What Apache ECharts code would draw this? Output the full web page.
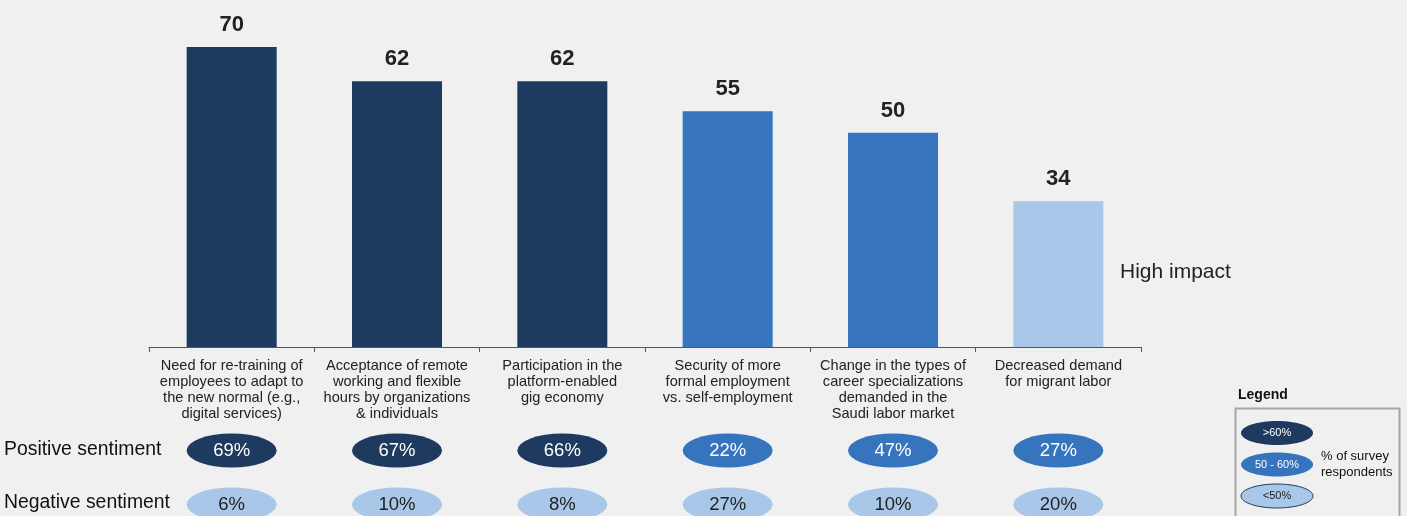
<!DOCTYPE html>
<html>
<head>
<meta charset="utf-8">
<script src="https://cdn.jsdelivr.net/npm/echarts@6/dist/echarts.min.js"></script>
<style>
  html, body { margin: 0; padding: 0; background: #f0f0f0; }
  #chart { width: 1407px; height: 516px; }
</style>
</head>
<body>
<div id="chart"></div>
<script>
// Impact drivers on the labour market
const categories = [
  'Need for re-training of\nemployees to adapt to\nthe new normal (e.g.,\ndigital services)',
  'Acceptance of remote\nworking and flexible\nhours by organizations\n& individuals',
  'Participation in the\nplatform-enabled\ngig economy',
  'Security of more\nformal employment\nvs. self-employment',
  'Change in the types of\ncareer specializations\ndemanded in the\nSaudi labor market',
  'Decreased demand\nfor migrant labor'
];
const impactScores = [70, 62, 62, 55, 50, 34];
const positiveSentiment = [69, 67, 66, 22, 47, 27];
const negativeSentiment = [6, 10, 8, 27, 10, 20];
const legendLabels = ['>60%', '50 - 60%', '<50%'];

const DARK = '#1f3a5f';
const MID = '#3674be';
const LIGHT = '#a9c7e8';
const FONT = '"Liberation Sans", Arial, sans-serif';

function barColor(v) {
  if (v > 60) return DARK;
  if (v >= 50) return MID;
  return LIGHT;
}

// Positive row keeps the blue shades of the driver groups; negative row is light
const positiveColors = [DARK, DARK, DARK, MID, MID, MID];

const posPoints = positiveSentiment.map((v, i) => ({
  value: [i, 1, v],
  itemStyle: { color: positiveColors[i], opacity: 1 },
  label: { color: '#ffffff' }
}));
const negPoints = negativeSentiment.map((v, i) => ({
  value: [i, 0, v],
  itemStyle: { color: LIGHT, opacity: 1 },
  label: { color: '#222222' }
}));

const chart = echarts.init(document.getElementById('chart'), null, { renderer: 'canvas' });

const legendEllipses = legendLabels.map((t, i) => ({
  type: 'group',
  children: [
    {
      type: 'ellipse',
      shape: { cx: 1277, cy: 433 + i * 31.5, rx: 36, ry: 12 },
      style: {
        fill: [DARK, MID, LIGHT][i],
        stroke: i === 2 ? '#1f3a5f' : null,
        lineWidth: i === 2 ? 1 : 0
      }
    },
    {
      type: 'text',
      style: {
        x: 1277, y: 433 + i * 31.5,
        text: t,
        fill: i === 2 ? '#222' : '#fff',
        font: '11px ' + FONT,
        align: 'center', verticalAlign: 'middle'
      }
    }
  ]
}));

chart.setOption({
  backgroundColor: '#f0f0f0',
  animation: false,
  grid: [
    { left: 149, right: 266, top: 47, height: 300 },
    { left: 149, right: 266, top: 450.5, height: 54 }
  ],
  xAxis: [
    {
      type: 'category',
      gridIndex: 0,
      data: categories,
      axisLine: { lineStyle: { color: '#555', width: 1 } },
      axisTick: { show: true, alignWithLabel: false, length: 5, lineStyle: { color: '#555' } },
      axisLabel: {
        interval: 0,
        margin: 11,
        color: '#222',
        fontSize: 14.6,
        lineHeight: 16,
        fontFamily: FONT,
        align: 'center'
      }
    },
    {
      type: 'category',
      gridIndex: 1,
      data: categories,
      show: false
    }
  ],
  yAxis: [
    { type: 'value', gridIndex: 0, min: 0, max: 70, show: false },
    { type: 'value', gridIndex: 1, min: 0, max: 1, show: false }
  ],
  series: [
    {
      type: 'bar',
      xAxisIndex: 0,
      yAxisIndex: 0,
      barWidth: 90,
      data: impactScores.map(v => ({ value: v, itemStyle: { color: barColor(v) } })),
      label: {
        show: true,
        position: 'top',
        distance: 11,
        color: '#222',
        fontSize: 22,
        fontWeight: 'bold',
        fontFamily: FONT
      }
    },
    {
      type: 'scatter',
      xAxisIndex: 1,
      yAxisIndex: 1,
      symbol: 'circle',
      symbolSize: [90, 34],
      clip: false,
      data: posPoints.concat(negPoints),
      label: {
        show: true,
        position: 'inside',
        formatter: p => p.value[2] + '%',
        fontSize: 18.5,
        fontFamily: FONT
      },
      emphasis: { disabled: true }
    }
  ],
  graphic: [
    {
      type: 'text',
      left: 1120, top: 262,
      style: { text: 'High impact', fill: '#222', font: '21px ' + FONT }
    },
    {
      type: 'text',
      left: 4, top: 440,
      style: { text: 'Positive sentiment', fill: '#111', font: '19.4px ' + FONT }
    },
    {
      type: 'text',
      left: 4, top: 493,
      style: { text: 'Negative sentiment', fill: '#111', font: '19.4px ' + FONT }
    },
    {
      type: 'text',
      left: 1238, top: 388,
      style: { text: 'Legend', fill: '#111', font: 'bold 14px ' + FONT }
    },
    {
      type: 'rect',
      shape: { x: 1235.5, y: 408.5, width: 164, height: 120 },
      style: { fill: 'none', stroke: '#a6a6a6', lineWidth: 2 }
    },
    {
      type: 'text',
      left: 1321, top: 448,
      style: { text: '% of survey\nrespondents', fill: '#111', lineHeight: 16, font: '13px ' + FONT }
    }
  ].concat(legendEllipses)
});
</script>
</body>
</html>
